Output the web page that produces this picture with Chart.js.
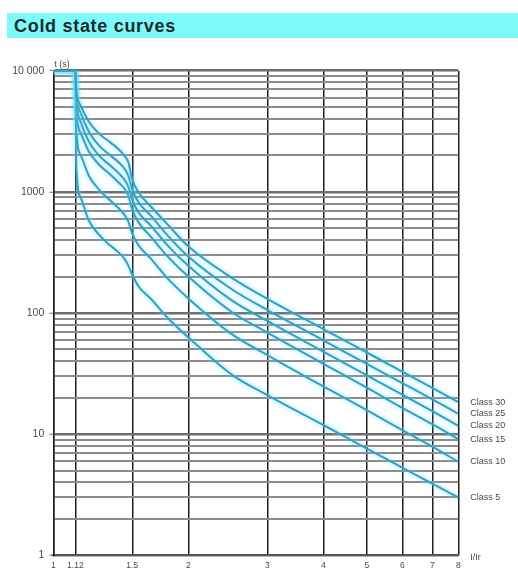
<!DOCTYPE html>
<html>
<head>
<meta charset="utf-8">
<script src="https://cdn.jsdelivr.net/npm/chart.js@4/dist/chart.umd.min.js"></script>
<style>
  html, body { margin: 0; padding: 0; background: #ffffff; }
  body { width: 518px; height: 570px; position: relative; overflow: hidden; }
  #title {
    position: absolute; left: 7px; top: 13px; width: 511px; height: 25px;
    background: #7dfafa; box-sizing: border-box; padding-left: 7px;
    font: bold 18px "Liberation Sans", Arial, sans-serif; letter-spacing: 0.7px;
    color: #1c2b2b; line-height: 26px;
  }
  #chart { position: absolute; left: 0; top: 0; }
</style>
</head>
<body>
<canvas id="chart" width="518" height="570"></canvas>
<div id="title">Cold state curves</div>
<script>
// Current as a multiple of the setting current, I/Ir
const currents = [1, 1.12, 1.125, 1.15, 1.2, 1.27, 1.34, 1.4, 1.44, 1.47, 1.5, 1.55, 1.65, 1.8, 2, 2.5, 3, 4, 5, 6, 7, 8];

// Tripping time in seconds for each trip class, one value per current above
const class30 = [10000, 10000, 7000, 5170, 3810, 2980, 2560, 2240, 1990, 1750, 1265, 986, 757, 537, 355, 195, 131, 73.7, 47.2, 32.8, 24.1, 18.4];
const class25 = [10000, 10000, 6490, 4520, 3150, 2370, 2000, 1750, 1560, 1360, 1045, 816, 637, 435, 292, 157, 106, 59.5, 38.1, 26.4, 19.4, 14.7];
const class20 = [10000, 10000, 5790, 3810, 2610, 1960, 1650, 1420, 1265, 1106, 864, 675, 527, 360, 245, 127, 86, 48, 30.6, 21.2, 15.5, 11.7];
const class15 = [10000, 10000, 4790, 3090, 2150, 1650, 1390, 1190, 1065, 932, 714, 557, 427, 292, 200, 102, 69, 38.1, 24.2, 16.5, 12.1, 9.1];
const class10 = [10000, 10000, 3270, 2030, 1360, 1025, 848, 728, 649, 568, 452, 360, 281, 192, 132, 67, 45, 24.8, 15.8, 10.8, 7.9, 5.9];
const class5  = [10000, 10000, 1680, 900, 580, 435, 360, 315, 281, 246, 207, 165, 131, 91, 63, 31, 21, 11.9, 7.6, 5.3, 3.9, 3.0];

const classNames = ['Class 30', 'Class 25', 'Class 20', 'Class 15', 'Class 10', 'Class 5'];
const classTimes = [class30, class25, class20, class15, class10, class5];

// Axis ticks
const xTicks = [1, 1.12, 1.5, 2, 3, 4, 5, 6, 7, 8];
const xTickLabels = ['1', '1.12', '1.5', '2', '3', '4', '5', '6', '7', '8'];
const yDecades = [1, 10, 100, 1000, 10000];
const yDecadeLabels = ['1', '10', '100', '1000', '10 000'];

// Grid rows: every 1..9 step inside each decade
const yGridValues = [];
for (let d = 0; d < yDecades.length - 1; d++) {
  for (let k = 1; k <= 9; k++) yGridValues.push(k * yDecades[d]);
}
yGridValues.push(yDecades[yDecades.length - 1]);

const isDecade = v => yDecades.some(d => Math.abs(d - v) < 1e-6 * d);
const FONT = '"Liberation Sans", Arial, sans-serif';

const datasets = classTimes.map((times, i) => ({
  label: classNames[i],
  data: currents.map((c, j) => ({ x: c, y: times[j] })),
  borderColor: '#34a0c2',
  borderWidth: 2,
  pointRadius: 0,
  fill: false,
  cubicInterpolationMode: 'monotone'
}));

// Soft cyan halo around each curve
const haloPlugin = {
  id: 'halo',
  beforeDatasetDraw(chart) {
    const ctx = chart.ctx;
    ctx.save();
    ctx.shadowColor = 'rgba(110, 220, 255, 0.9)';
    ctx.shadowBlur = 4;
  },
  afterDatasetDraw(chart) {
    chart.ctx.restore();
  }
};

// Axis titles and the class name at the end of each curve
const labelsPlugin = {
  id: 'labels',
  afterDatasetsDraw(chart) {
    const ctx = chart.ctx;
    const area = chart.chartArea;
    ctx.save();
    ctx.fillStyle = '#4a4a4a';
    ctx.font = '9px ' + FONT;
    ctx.textAlign = 'left';
    ctx.textBaseline = 'middle';
    chart.data.datasets.forEach((ds, i) => {
      const pts = chart.getDatasetMeta(i).data;
      const last = pts[pts.length - 1];
      ctx.fillText(ds.label, area.right + 12, last.y);
    });
    ctx.textBaseline = 'alphabetic';
    ctx.fillText('t (s)', area.left + 1, area.top - 4);
    ctx.fillText('I/Ir', area.right + 12, area.bottom + 5);
    ctx.restore();
  }
};

new Chart(document.getElementById('chart'), {
  type: 'line',
  data: { datasets },
  plugins: [haloPlugin, labelsPlugin],
  options: {
    responsive: false,
    animation: false,
    layout: { padding: { top: 70.7, right: 59.7, left: 0, bottom: 0 } },
    plugins: { legend: { display: false }, tooltip: { enabled: false } },
    scales: {
      x: {
        type: 'logarithmic',
        min: 1,
        max: 8,
        afterBuildTicks: s => { s.ticks = xTicks.map(v => ({ value: v })); },
        afterFit: s => { s.height = 14.7; },
        ticks: {
          autoSkip: false,
          maxRotation: 0,
          padding: 5,
          color: '#4a4a4a',
          font: { size: 8.5, family: FONT },
          callback: (v) => {
            const i = xTicks.findIndex(t => Math.abs(t - v) < 1e-6);
            return i >= 0 ? xTickLabels[i] : '';
          }
        },
        grid: { color: '#1e1e1e', lineWidth: 1.5, drawTicks: false },
        border: { display: true, color: '#555555', width: 2 }
      },
      y: {
        type: 'logarithmic',
        min: 1,
        max: 10000,
        afterBuildTicks: s => { s.ticks = yGridValues.map(v => ({ value: v })); },
        afterFit: s => { s.width = 53.3; },
        ticks: {
          autoSkip: false,
          padding: 5,
          color: '#4a4a4a',
          font: { size: 10.5, family: FONT },
          callback: (v) => {
            const i = yDecades.findIndex(d => Math.abs(d - v) < 1e-6 * d);
            return i >= 0 ? yDecadeLabels[i] : '';
          }
        },
        grid: {
          color: c => (c.tick && isDecade(c.tick.value)) ? '#6e6e6e' : '#8c8c8c',
          lineWidth: c => (c.tick && isDecade(c.tick.value)) ? 2.5 : 2,
          tickLength: 4,
          tickColor: c => (c.tick && isDecade(c.tick.value)) ? '#777777' : 'rgba(0,0,0,0)',
          tickWidth: 1
        },
        border: { display: true, color: '#1e1e1e', width: 1.5 }
      }
    }
  }
});
</script>
</body>
</html>
